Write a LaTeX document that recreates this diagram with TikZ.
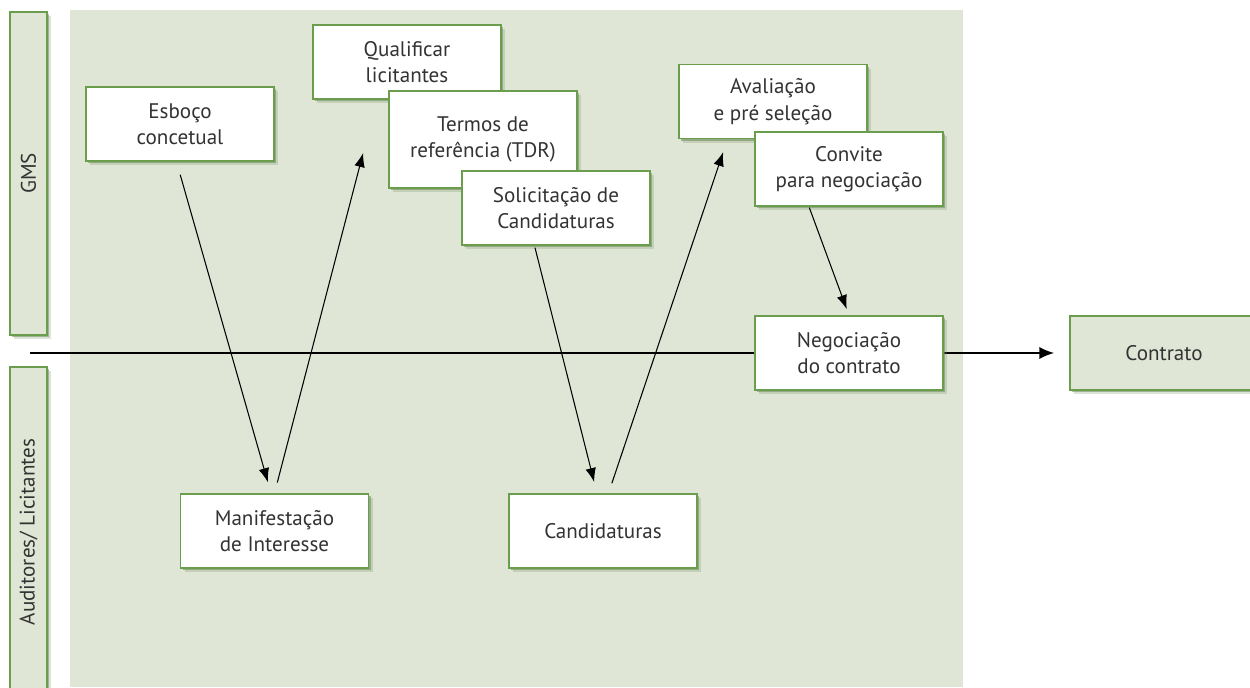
\documentclass[tikz,border=0pt]{standalone}
\usepackage{fontspec}
\setmainfont{PT Sans}
\usetikzlibrary{arrows.meta}
\usetikzlibrary{shadows}
\usetikzlibrary{positioning}

\definecolor{panel}{HTML}{E0E6D6}
\definecolor{edge}{HTML}{6A9E4C}
\definecolor{shade}{HTML}{6F8C5C}
\definecolor{ink}{HTML}{333333}

\begin{document}
\begin{tikzpicture}[
  every node/.style={font=\fontsize{12}{15}\selectfont, text=ink},
  box/.style={draw=edge, line width=0.85pt, fill=white, align=center,
    minimum width=3.76cm, minimum height=1.48cm, inner sep=0pt,
    drop shadow={shadow xshift=2.4pt, shadow yshift=-2.4pt, fill=shade, opacity=0.25},
    drop shadow={shadow xshift=1.2pt, shadow yshift=-1.2pt, fill=shade, opacity=0.55}},
  lane/.style={box, fill=panel, minimum width=0.74cm},
  flow/.style={-{Latex[length=8pt,width=6pt]}, line width=0.6pt},
  mainflow/.style={-{Latex[length=8.5pt,width=7pt]}, line width=1.1pt},
  ]
    \useasboundingbox (0,0) rectangle (25,13.74);
    \fill[panel] (1.4,0) rectangle (19.26,13.54);
    % swimlanes
    \node[lane, minimum height=6.46cm] (gms) at (0.57,10.27) {\rotatebox{90}{GMS}};
    \node[lane, minimum height=6.6cm] (bidders) at (0.57,3.1) {\rotatebox{90}{Auditores/ Licitantes}};
    % time line
    \node[box, fill=panel] (contrato) at (23.28,6.68) {Contrato};
    \coordinate (start) at (0.6,6.68);
    \draw[mainflow, shorten >=0.3cm] (start) -- (contrato);
    % GMS steps
    \node[box] (esboco) at (3.6,11.26) {Esboço\\concetual};
    \node[box] (qualif) at (8.14,12.5) {Qualificar\\licitantes};
    \node[box, minimum height=1.94cm] (tdr) at (9.66,10.95) {Termos de\\referência (TDR)};
    \node[box] (solic) at (11.12,9.58) {Solicitação de\\Candidaturas};
    \node[box] (aval) at (15.46,11.71) {Avaliação\\e pré seleção};
    \node[box] (convite) at (16.98,10.36) {Convite\\para negociação};
    \node[box] (negoc) at (16.98,6.68) {Negociação\\do contrato};
    % bidder steps
    \node[box] (manif) at (5.49,3.12) {Manifestação\\de Interesse};
    \node[box] (cand) at (12.06,3.12) {Candidaturas};
    \draw[flow, shorten <=0.27cm, shorten >=0.23cm] ([xshift=-0.07cm]esboco.south) -- ([xshift=-0.07cm]manif.north);
    \draw[flow, shorten <=0.22cm, shorten >=1.1cm] (manif.north) -- ([xshift=-0.6cm]qualif.south);
    \draw[flow, shorten <=0.04cm, shorten >=0.23cm] ([xshift=-0.43cm]solic.south) -- ([xshift=-0.12cm]cand.north);
    \draw[flow, shorten <=0.21cm, shorten >=0.27cm] ([xshift=0.11cm]cand.north) -- ([xshift=-0.91cm]aval.south);
    \draw[flow, shorten <=0.02cm, shorten >=0.13cm] ([xshift=-0.8cm]convite.south) -- (negoc.north);
  \end{tikzpicture}
\end{document}
